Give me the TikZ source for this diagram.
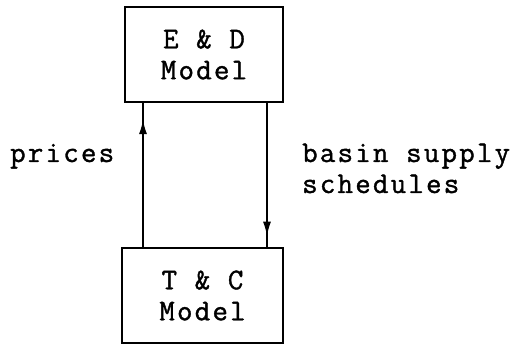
\documentclass[tikz,border=0pt]{standalone}
\usepackage{fontspec}
\newfontfamily\tw{Latin Modern Mono}[LetterSpace=7.5,FakeBold=1.2]
\usetikzlibrary{arrows.meta,decorations.markings}
\begin{document}
\begin{tikzpicture}[x=1pt,y=1pt,
  box/.style={draw,line width=1.4pt,inner sep=0pt,align=center,font=\tw\fontsize{30}{31}\selectfont},
  lbl/.style={inner sep=0pt,align=left,font=\tw\fontsize{30}{31}\selectfont},
  flow/.style={line width=1.3pt,postaction={decorate},decoration={markings,
     mark=at position #1 with {\arrow{Latex[length=14pt,width=8pt]}}}}]
\useasboundingbox (0,0) rectangle (517,345);
\node[box,minimum width=158pt,minimum height=95pt] (ed) at (204,290.5) {E \& D\\Model};
\node[box,minimum width=161pt,minimum height=95pt] (tc) at (202.5,49.5) {T \& C\\Model};
\coordinate (L) at (143,0);
\coordinate (R) at (267,0);
\draw[flow=0.88] (tc.north -| L) -- (ed.south -| L);
\draw[flow=0.92] (ed.south -| R) -- (tc.north -| R);
\node[lbl,anchor=base west] (pr) at (10,183) {prices};
\node[lbl,anchor=base west] (bs) at (302,183) {basin supply};
\node[lbl,anchor=base west] (sc) at (302,152) {schedules};
\end{tikzpicture}
\end{document}
